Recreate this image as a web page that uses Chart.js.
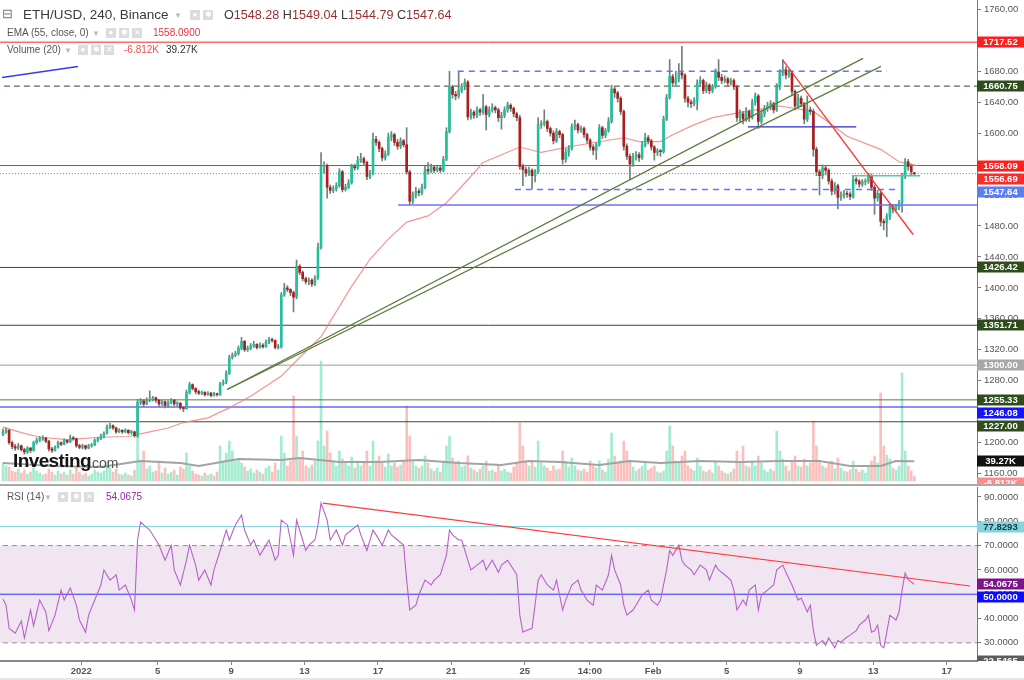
<!DOCTYPE html>
<html><head><meta charset="utf-8">
<script src="https://cdn.jsdelivr.net/npm/chart.js@4.4.1/dist/chart.umd.min.js"></script>
<style>
html,body{margin:0;padding:0;background:#fff;}
#wrap{position:relative;width:1024px;height:680px;overflow:hidden;font-family:"Liberation Sans",Arial,sans-serif;}
#c1{position:absolute;left:0;top:0;}
#c2{position:absolute;left:0;top:487px;}
.sep{position:absolute;left:0;top:484px;width:1024px;height:2px;background:#a9a9a9;}
.bot{position:absolute;left:0;top:678px;width:1024px;height:2px;background:#e6e6e6;}
.t{position:absolute;white-space:nowrap;line-height:1;}
.ic{position:absolute;width:10px;height:10px;background:#dcdcdc;color:#fff;font-size:8px;line-height:10px;text-align:center;}
.dd{position:absolute;font-size:8px;color:#bbb;}
.n{color:#9b2f2f;}
</style></head>
<body><div id="wrap">
<canvas id="c1" width="1024" height="484"></canvas>
<div class="sep"></div>
<canvas id="c2" width="1024" height="193"></canvas>
<div class="bot"></div>

<div class="t" style="left:2px;top:7px;font-size:13px;color:#777">⊟</div>
<div class="t" style="left:23px;top:8px;font-size:13.5px;color:#3a3a3a">ETH/USD, 240, Binance</div>
<div class="dd" style="left:174px;top:11px">▼</div>
<div class="ic" style="left:190px;top:10px">●</div>
<div class="ic" style="left:203px;top:10px">✱</div>
<div class="t" style="left:224px;top:8.5px;font-size:12.6px;color:#3a3a3a">O<span class="n">1548.28</span> H<span class="n">1549.04</span> L<span class="n">1544.79</span> C<span class="n">1547.64</span></div>

<div class="t" style="left:7px;top:28px;font-size:10px;color:#555">EMA (55, close, 0)</div>
<div class="dd" style="left:92px;top:29px">▼</div>
<div class="ic" style="left:106px;top:28px">●</div>
<div class="ic" style="left:119px;top:28px">✱</div>
<div class="ic" style="left:132px;top:28px">✕</div>
<div class="t" style="left:153px;top:28px;font-size:10px;color:#f0303a">1558.0900</div>

<div class="t" style="left:7px;top:45px;font-size:10px;color:#555">Volume (20)</div>
<div class="dd" style="left:64px;top:46px">▼</div>
<div class="ic" style="left:78px;top:45px">●</div>
<div class="ic" style="left:91px;top:45px">✱</div>
<div class="ic" style="left:104px;top:45px">✕</div>
<div class="t" style="left:124px;top:45px;font-size:10px;color:#f05050">-6.812K</div>
<div class="t" style="left:166px;top:45px;font-size:10px;color:#333">39.27K</div>

<div class="t" style="left:7px;top:492px;font-size:10px;color:#555">RSI (14)</div>
<div class="dd" style="left:44px;top:493px">▼</div>
<div class="ic" style="left:58px;top:492px">●</div>
<div class="ic" style="left:71px;top:492px">✱</div>
<div class="ic" style="left:84px;top:492px">✕</div>
<div class="t" style="left:106px;top:492px;font-size:10px;color:#8e2a9e">54.0675</div>

<div class="t" style="left:13px;top:451px;font-size:19px;font-weight:bold;letter-spacing:-0.6px;color:#151515">Investing</div>
<div class="t" style="left:88px;top:456px;font-size:14px;color:#555">.com</div>
</div>
<script>
// ---------- DATA ----------
const opens = [1211,1214,1216,1200,1195,1193,1196,1191,1188,1193,
1190,1200,1203,1205,1206,1202,1192,1190,1194,1200,
1198,1203,1201,1206,1205,1196,1194,1196,1193,1196,
1197,1203,1205,1208,1212,1220,1222,1219,1214,1216,
1214,1216,1213,1214,1209,1252,1254,1250,1255,1256,
1258,1255,1250,1253,1248,1252,1255,1250,1251,1245,
1244,1265,1275,1270,1266,1264,1265,1262,1264,1261,
1263,1262,1276,1278,1290,1310,1313,1315,1322,1331,
1320,1322,1325,1327,1323,1326,1324,1330,1333,1332,
1323,1324,1391,1400,1398,1394,1388,1428,1420,1412,
1408,1410,1405,1413,1452,1557,1558,1530,1526,1528,
1532,1550,1527,1530,1536,1557,1555,1565,1567,1562,
1544,1548,1592,1588,1580,1568,1573,1595,1598,1588,
1583,1590,1585,1550,1512,1520,1525,1523,1530,1553,
1551,1556,1552,1555,1552,1566,1602,1660,1650,1648,
1655,1660,1666,1621,1627,1623,1630,1627,1634,1624,
1630,1633,1630,1620,1623,1630,1636,1632,1625,1620,
1557,1553,1548,1552,1545,1550,1611,1612,1615,1606,
1600,1590,1602,1598,1566,1575,1580,1608,1611,1604,
1606,1598,1591,1582,1578,1585,1607,1597,1603,1615,
1657,1652,1645,1628,1583,1570,1560,1570,1572,1568,
1585,1594,1590,1582,1575,1577,1576,1618,1646,1673,
1665,1670,1678,1675,1645,1640,1638,1642,1665,1668,
1655,1662,1655,1660,1679,1672,1668,1670,1665,1668,
1660,1620,1625,1618,1628,1620,1640,1648,1615,1625,
1632,1635,1638,1630,1660,1678,1682,1675,1678,1654,
1635,1645,1638,1618,1630,1628,1579,1550,1545,1555,
1552,1538,1525,1532,1517,1520,1522,1521,1518,1540,
1538,1534,1537,1538,1545,1530,1516,1522,1486,1484,
1492,1505,1502,1505,1510,1544,1563,1557,1548.28];
const closes = [1214,1216,1200,1195,1193,1196,1191,1188,1193,1190,
1200,1203,1205,1206,1202,1192,1190,1194,1200,1198,
1203,1201,1206,1205,1196,1194,1196,1193,1196,1197,
1203,1205,1208,1212,1220,1222,1219,1214,1216,1214,
1216,1213,1214,1209,1252,1254,1250,1255,1256,1258,
1255,1250,1253,1248,1252,1255,1250,1251,1245,1244,
1265,1275,1270,1266,1264,1265,1262,1264,1261,1263,
1262,1276,1278,1290,1310,1313,1315,1322,1331,1320,
1322,1325,1327,1323,1326,1324,1330,1333,1332,1323,
1324,1391,1400,1398,1394,1388,1428,1420,1412,1408,
1410,1405,1413,1452,1557,1558,1530,1526,1528,1532,
1550,1527,1530,1536,1557,1555,1565,1567,1562,1544,
1548,1592,1588,1580,1568,1573,1595,1598,1588,1583,
1590,1585,1550,1512,1520,1525,1523,1530,1553,1551,
1556,1552,1555,1552,1566,1602,1660,1650,1648,1655,
1660,1666,1621,1627,1623,1630,1627,1634,1624,1630,
1633,1630,1620,1623,1630,1636,1632,1625,1620,1557,
1553,1548,1552,1545,1550,1611,1612,1615,1606,1600,
1590,1602,1598,1566,1575,1580,1608,1611,1604,1606,
1598,1591,1582,1578,1585,1607,1597,1603,1615,1657,
1652,1645,1628,1583,1570,1560,1570,1572,1568,1585,
1594,1590,1582,1575,1577,1576,1618,1646,1673,1665,
1670,1678,1675,1645,1640,1638,1642,1665,1668,1655,
1662,1655,1660,1679,1672,1668,1670,1665,1668,1660,
1620,1625,1618,1628,1620,1640,1648,1615,1625,1632,
1635,1638,1630,1660,1678,1682,1675,1678,1654,1635,
1645,1638,1618,1630,1628,1579,1550,1545,1555,1552,
1538,1525,1532,1517,1520,1522,1521,1518,1540,1538,
1534,1537,1538,1545,1530,1516,1522,1486,1484,1492,
1505,1502,1505,1510,1544,1563,1557,1550,1547.64];
const highs = [1218,1219,1217,1202,1198,1199,1197,1193,1195,1194,
1202,1206,1208,1209,1207,1203,1194,1196,1202,1201,
1205,1204,1210,1208,1206,1198,1198,1197,1198,1199,
1205,1207,1211,1214,1223,1225,1223,1220,1218,1217,
1218,1217,1216,1215,1256,1257,1256,1258,1267,1260,
1259,1256,1255,1254,1254,1257,1256,1253,1252,1247,
1268,1278,1276,1271,1268,1267,1266,1266,1265,1265,
1264,1278,1281,1293,1313,1316,1318,1325,1336,1332,
1325,1328,1331,1328,1329,1328,1333,1336,1335,1333,
1327,1394,1406,1403,1399,1396,1436,1430,1422,1414,
1413,1412,1416,1458,1575,1563,1560,1533,1532,1536,
1554,1552,1534,1540,1560,1560,1570,1574,1569,1564,
1552,1600,1596,1590,1582,1577,1600,1602,1600,1592,
1594,1592,1607,1552,1524,1530,1528,1534,1557,1562,
1560,1558,1557,1557,1570,1607,1680,1662,1654,1680,
1664,1670,1668,1631,1629,1634,1632,1650,1636,1634,
1638,1635,1632,1627,1634,1640,1638,1634,1627,1623,
1560,1556,1556,1554,1553,1620,1616,1630,1617,1608,
1603,1606,1604,1600,1580,1584,1612,1617,1613,1609,
1608,1600,1593,1585,1588,1611,1609,1606,1620,1662,
1660,1654,1647,1630,1586,1573,1574,1576,1575,1589,
1600,1597,1592,1584,1580,1579,1622,1650,1695,1676,
1680,1690,1712,1677,1648,1643,1646,1669,1673,1670,
1666,1664,1663,1683,1695,1676,1674,1672,1671,1670,
1662,1630,1628,1633,1630,1644,1652,1650,1630,1636,
1640,1642,1640,1664,1682,1695,1686,1682,1680,1656,
1650,1648,1640,1648,1634,1631,1582,1553,1559,1558,
1554,1541,1536,1534,1524,1526,1525,1524,1544,1543,
1540,1540,1541,1548,1547,1533,1526,1524,1489,1496,
1509,1508,1508,1513,1548,1567,1566,1560,1549.04];
const lows = [1209,1212,1198,1192,1190,1191,1189,1185,1186,1187,
1189,1198,1201,1203,1200,1189,1187,1189,1193,1196,
1197,1199,1200,1203,1194,1192,1192,1191,1192,1194,
1196,1201,1204,1206,1211,1218,1217,1212,1213,1212,
1213,1211,1211,1207,1207,1249,1247,1249,1253,1254,
1252,1247,1248,1245,1246,1250,1248,1247,1243,1240,
1243,1263,1268,1263,1262,1262,1260,1261,1259,1260,
1260,1261,1274,1276,1288,1308,1311,1313,1320,1318,
1318,1320,1323,1321,1322,1322,1323,1328,1330,1321,
1321,1322,1389,1395,1390,1369,1386,1417,1409,1405,
1404,1402,1403,1411,1450,1548,1516,1522,1523,1525,
1530,1524,1525,1528,1534,1552,1553,1562,1558,1540,
1541,1546,1584,1576,1564,1565,1571,1590,1584,1579,
1580,1582,1547,1507,1509,1516,1519,1520,1528,1547,
1549,1549,1550,1549,1550,1564,1600,1645,1643,1645,
1652,1656,1617,1618,1619,1620,1623,1624,1604,1621,
1627,1626,1615,1605,1620,1627,1628,1621,1616,1553,
1532,1544,1545,1528,1537,1548,1606,1609,1602,1596,
1586,1588,1594,1560,1562,1570,1578,1604,1600,1601,
1594,1587,1578,1572,1566,1583,1593,1594,1601,1613,
1646,1640,1624,1578,1566,1540,1557,1565,1563,1566,
1582,1586,1578,1565,1571,1570,1574,1616,1644,1660,
1662,1666,1670,1640,1634,1633,1635,1630,1660,1651,
1652,1651,1652,1658,1668,1664,1665,1661,1662,1656,
1615,1614,1612,1615,1615,1618,1636,1606,1612,1621,
1628,1630,1626,1628,1656,1674,1670,1672,1650,1630,
1632,1634,1612,1615,1624,1570,1545,1520,1541,1546,
1534,1520,1521,1502,1513,1516,1517,1514,1516,1534,
1530,1531,1533,1535,1526,1495,1512,1480,1475,1466,
1488,1497,1499,1501,1498,1541,1552,1546,1544.79];
const volumes = [36,30,28,20,18,24,16,22,14,18,
26,20,16,12,14,24,18,12,20,14,
18,12,22,14,28,18,12,16,10,14,
22,18,16,20,38,26,18,24,14,12,
16,12,10,22,100,40,60,24,30,18,
20,40,16,26,14,18,22,12,28,24,
56,30,20,14,12,10,16,12,14,10,
18,70,40,56,80,60,40,44,36,28,
20,24,16,22,18,14,26,30,18,36,
22,90,56,30,40,170,90,44,60,30,
26,32,40,80,240,70,100,56,40,30,
60,44,36,30,48,26,40,30,36,60,
30,80,40,50,36,28,54,30,36,28,
32,40,150,90,40,30,26,30,50,36,
24,20,26,18,40,70,90,46,36,40,
28,30,50,26,22,18,24,30,40,20,
22,18,30,20,24,18,16,28,36,116,
70,40,30,40,28,80,36,30,26,20,
30,22,24,60,40,28,46,30,22,20,
24,18,40,30,26,40,22,18,44,96,
50,36,40,80,60,40,28,20,24,30,
36,22,26,30,18,16,20,60,110,70,
40,36,50,60,30,24,20,46,30,20,
18,22,16,40,30,20,16,14,18,24,
60,36,70,30,28,40,30,50,36,22,
18,24,20,100,60,44,30,20,40,50,
30,28,44,30,36,120,70,40,30,26,
34,40,24,46,26,20,18,22,40,24,
18,22,16,30,40,50,36,176,70,52,
44,26,22,30,216,60,30,20,10];
// volume moving average (20), read at candle indices
const volMA = [[0,36],[16,30],[32,28],[45,40],[58,36],[64,30],[77,44],[91,42],[97,46],[110,38],[123,38],[136,42],[149,36],[163,32],[172,40],[182,38],[195,32],[205,40],[215,36],[228,40],[241,38],[254,40],[267,40],[277,30],[287,30],[292,40],[298,39.27]];
// EMA(55) read at candle indices
const ema55 = [[0,1220],[6,1213],[12,1207],[21,1204],[32,1207],[41,1208],[48,1214],[54,1219],[59,1226],[67,1232],[74,1245],[81,1260],[91,1286],[97,1310],[104,1337],[114,1402],[120,1437],[126,1463],[132,1485],[139,1493],[145,1510],[150,1531],[157,1562],[169,1582],[176,1575],[186,1583],[203,1594],[208,1589],[215,1589],[219,1598],[225,1609],[232,1620],[243,1628],[254,1635],[265,1628],[270,1614],[276,1596],[287,1579],[293,1563],[299,1558.09]];
// RSI(14) read at candle indices
const rsi14 = [[0,48],[1,45.5],[2,36],[4,34],[6,39],[7,32],[9,43.5],[10,37],[12,47.6],[14,42.7],[15,35],[17,41.4],[19,51.7],[20,47.6],[22,52.5],[24,45.5],[25,39.4],[27,34.4],[28,41.4],[30,47.6],[32,53.8],[33,60],[35,55.8],[37,58],[38,51.7],[40,53.8],[42,47.6],[43,43.5],[44,72.3],[45,79.7],[46,78.5],[48,76.4],[50,72.3],[51,70.2],[53,64],[55,70.2],[56,60],[58,53.8],[60,64],[61,70.2],[63,62],[64,55.8],[66,60],[68,53.8],[69,60],[71,68],[73,76.4],[74,72.3],[76,78.5],[78,82.6],[79,76.4],[81,70.2],[82,72.3],[84,66],[86,70.2],[87,72.3],[89,64],[90,66],[91,80.5],[93,78.5],[94,72.3],[95,66],[96,80.5],[98,72.3],[99,68],[100,70.2],[102,72.3],[103,78.5],[104,87.5],[106,80.5],[107,72.3],[109,76.4],[111,70.2],[112,74.4],[114,76.4],[116,78.5],[117,74.4],[119,68],[121,76.4],[122,74.4],[124,70.2],[126,76.4],[127,74.4],[129,72.3],[131,70.2],[132,55.8],[133,43.5],[135,45.5],[136,49.7],[138,55.8],[140,53.8],[141,55.8],[143,58],[145,66],[146,76.4],[147,74.4],[149,72.3],[150,72.3],[152,64],[153,60],[155,62],[157,64],[158,60],[160,64],[162,59],[163,62],[165,64],[166,62],[168,58],[169,41.4],[170,34.4],[171,35],[173,36],[175,55.8],[176,58],[178,53.8],[180,51.7],[181,55.8],[183,43.5],[184,47.6],[186,53.8],[188,55.8],[189,51.7],[191,47.6],[193,45.5],[194,53.8],[196,51.7],[198,58],[199,66],[200,60],[202,53.8],[203,45.5],[204,41.4],[206,43.5],[207,45.5],[209,49.7],[211,51.7],[212,47.6],[214,45.5],[215,47.6],[217,60],[218,68],[219,66],[221,70.2],[222,64],[223,62],[225,60],[226,58],[228,62],[230,60],[231,55.8],[233,62],[234,60],[236,58],[238,55.8],[239,51.7],[240,43.5],[242,47.6],[243,45.5],[244,51.7],[246,53.8],[247,43.5],[248,49.7],[250,51.7],[252,53.8],[253,60],[255,62],[256,59],[258,53.8],[260,47.6],[261,48.4],[263,42.7],[264,45.5],[265,35],[266,29],[268,31],[269,29],[270,32],[272,28],[273,31],[274,30.3],[276,32.4],[277,33.2],[279,35],[280,37.3],[282,39.4],[283,41.4],[284,34.4],[285,35],[286,37.3],[287,29],[288,28],[289,34.4],[290,41.4],[292,39.4],[293,42.7],[294,51.7],[295,58.7],[296,56],[298,54.0675]];
// x-axis ticks (candle index of each label) and their labels
const tickPos = [25.6,50.6,74.6,98.6,122.6,146.6,170.6,191.9,212.6,236.6,260.6,284.6,308.6];
const tickLabels = ['2022','5','9','13','17','21','25','14:00','Feb','5','9','13','17'];
const priceTicks = [1160,1200,1240,1280,1320,1360,1400,1440,1480,1520,1560,1600,1640,1680,1720,1760];
const rsiTicks = [30,40,50,60,70,80,90];
// horizontal levels
const lvlRed = [1717.52, 1558.09];
const lvlDashed = 1660.75;
const lvlLast = 1547.64;
const lvlDark = [1426.42, 1351.71, 1227.00];
const lvlGray = 1300.00;
const lvlOlive = 1255.33;
const lvlBlue = 1246.08;
const lvlEmaTag = 1556.69;
// drawings: [[candleIndex, price], [candleIndex, price]]
const chanA = [[73.3,1268.7],[281.2,1696.6]];
const chanB = [[73.3,1268.7],[287.1,1686.3]];
const downTrend = [[255,1694.4],[297.6,1469]];
const rangeTop = [[148.7,1680],[289.1,1680]];
const rangeBot = [[167.4,1527],[292.3,1527]];
const support = [[129.2,1507],[330,1507]];
const miniRes = [[243.6,1608],[279,1608]];
const tealLine = [[277.6,1545],[299.9,1545]];
const blueTick = [[-0.3,1672],[24.5,1686]];
const rsiTrend = [[104.6,87.5],[316.2,53.4]];
const rsiLevels = {upper:70, lower:30, mid:50, cyan:77.8293, last:54.0675, low:22.5465};

// ---------- CHART ----------
const FONT = '"Liberation Sans", Arial, sans-serif';
const X_MIN = -0.98, X_MAX = 318.5;
const GREEN = '#22c09c', RED = '#ad1d1d';
const up = i => closes[i] >= opens[i];
const seg = s => s.map(([x,y]) => ({x, y}));
const hl = (v, a = X_MIN - 2, b = X_MAX + 2) => [{x:a, y:v}, {x:b, y:v}];
const line = (data, color, extra = {}) => Object.assign({type:'line', data, borderColor:color, borderWidth:1, pointRadius:0, fill:false, tension:0, yAxisID:'y'}, extra);

const labelPlugin = {
  id: 'valueLabels',
  afterDraw(chart, args, opts) {
    const ctx = chart.ctx, ca = chart.chartArea;
    ctx.save();
    ctx.beginPath();
    ctx.rect(0, 0, chart.width, opts.clipBottom || chart.height);
    ctx.clip();
    let prev = -1e9;
    opts.items.forEach(it => {
      let y = chart.scales[it.axis || 'y'].getPixelForValue(it.v);
      if (it.push && y - prev < 13) y = prev + 13;
      prev = y;
      ctx.fillStyle = it.bg;
      ctx.fillRect(ca.right, Math.round(y) - 5.5, chart.width - ca.right, 11);
      ctx.fillStyle = it.fg || '#fff';
      ctx.font = 'bold 9.5px ' + FONT;
      ctx.textAlign = 'center';
      ctx.textBaseline = 'middle';
      ctx.fillText(it.t, ca.right + (chart.width - ca.right) / 2, Math.round(y) + 0.5);
    });
    ctx.restore();
  }
};

const yAfterFit = w => s => { s.width = w; s.paddingTop = 0; s.paddingBottom = 0; };

new Chart(document.getElementById('c1'), {
  type: 'bar',
  data: { datasets: [
    {type:'bar', data: volumes.map((v,i)=>({x:i,y:v})), yAxisID:'vol', barThickness:2, grouped:false,
      backgroundColor: c => up(c.dataIndex) ? 'rgba(90,220,170,0.55)' : 'rgba(245,140,135,0.55)', order:30},
    line(volMA.map(([x,y])=>({x,y})), '#a3a3a3', {yAxisID:'vol', borderWidth:2, order:29}),
    line(hl(lvlRed[0]), '#ff2020', {order:20}),
    line(hl(lvlRed[1]), '#ff2020', {order:20}),
    line(hl(lvlDashed), '#2e4a1c', {borderDash:[6,4], order:20}),
    line(hl(lvlLast), '#5a78ee', {borderDash:[1,2], order:20}),
    ...lvlDark.map(v => line(hl(v), '#3a4d2a', {order:20})),
    line(hl(lvlGray), '#bcbcbc', {borderWidth:1.5, order:20}),
    line(hl(lvlOlive), '#60764a', {order:20}),
    line(hl(lvlBlue), '#1a1aff', {order:20}),
    line(ema55.map(([x,y])=>({x,y})), 'rgba(240,130,130,0.85)', {borderWidth:1.2, order:18}),
    {type:'bar', data: closes.map((c,i)=>({x:i, y:[lows[i], highs[i]]})), barThickness:1, grouped:false,
      backgroundColor:'#6f8279', yAxisID:'y', order:12},
    {type:'bar', data: closes.map((c,i)=>({x:i, y:[opens[i], c]})), barThickness:2, grouped:false, minBarLength:1,
      backgroundColor: c => up(c.dataIndex) ? GREEN : RED, yAxisID:'y', order:11},
    line(seg(chanA), '#5d7a3c', {borderWidth:1.3, order:5}),
    line(seg(chanB), '#5d7a3c', {borderWidth:1.3, order:5}),
    line(seg(downTrend), '#ff3535', {borderWidth:1.3, order:5}),
    line(seg(rangeTop), '#6f6ff8', {borderWidth:1.5, borderDash:[6,5], order:5}),
    line(seg(rangeBot), '#6f6ff8', {borderWidth:1.5, borderDash:[6,5], order:5}),
    line(seg(support), '#7070ff', {borderWidth:1.5, order:5}),
    line(seg(miniRes), '#2a2ad8', {borderWidth:1.2, order:5}),
    line(seg(tealLine), '#62c2a2', {borderWidth:1.5, order:5}),
    line(seg(blueTick), '#3a3aee', {borderWidth:1.5, order:5})
  ]},
  options: {
    responsive:false, animation:false, events:[],
    layout:{padding:0},
    plugins:{legend:{display:false}, tooltip:{enabled:false},
      valueLabels:{items:[
        {v:lvlRed[0], t:lvlRed[0].toFixed(2), bg:'#ff1e1e'},
        {v:lvlDashed, t:lvlDashed.toFixed(2), bg:'#2f4d1c'},
        {v:lvlRed[1], t:lvlRed[1].toFixed(2), bg:'#ff1e1e'},
        {v:lvlEmaTag, t:lvlEmaTag.toFixed(2), bg:'#ff2b2b', push:true},
        {v:lvlLast, t:lvlLast.toFixed(2), bg:'#5b7ef0', push:true},
        {v:lvlDark[0], t:lvlDark[0].toFixed(2), bg:'#2f4d1c'},
        {v:lvlDark[1], t:lvlDark[1].toFixed(2), bg:'#2f4d1c'},
        {v:lvlGray, t:lvlGray.toFixed(2), bg:'#a8a8a8'},
        {v:lvlOlive, t:lvlOlive.toFixed(2), bg:'#2f4d1c'},
        {v:lvlBlue, t:lvlBlue.toFixed(2), bg:'#1414ff'},
        {v:lvlDark[2], t:lvlDark[2].toFixed(2), bg:'#2f4d1c'},
        {v:39.27, axis:'vol', t:'39.27K', bg:'#111'},
        {v:-4, axis:'vol', t:'-6.812K', bg:'#ff8a8a'}
      ]}},
    scales:{
      x:{type:'linear', min:X_MIN, max:X_MAX, offset:false, display:false},
      y:{type:'linear', position:'right', min:1146.6, max:1772.0,
        afterFit: yAfterFit(47),
        afterBuildTicks: s => { s.ticks = priceTicks.map(v=>({value:v})); },
        ticks:{callback: v => Number(v).toFixed(2), font:{size:9.5, family:FONT}, color:'#555', padding:3},
        grid:{drawOnChartArea:false, drawTicks:true, tickLength:4, color:'#777'},
        border:{display:true, color:'#777'}},
      vol:{type:'linear', display:false, min:-6, max:962}
    }
  },
  plugins:[labelPlugin]
});

new Chart(document.getElementById('c2'), {
  type: 'line',
  data: { datasets: [
    line(hl(rsiLevels.upper), 'rgba(0,0,0,0)', {borderWidth:0, fill:{value:rsiLevels.lower}, backgroundColor:'#f2e5f2', order:30}),
    line(hl(rsiLevels.upper), '#8f8f8f', {borderDash:[5,4], order:20}),
    line(hl(rsiLevels.lower), '#8f8f8f', {borderDash:[5,4], order:20}),
    line(hl(rsiLevels.cyan), '#7ed4e2', {order:20}),
    line(hl(rsiLevels.mid), '#2f2fff', {order:20}),
    line(rsi14.map(([x,y])=>({x,y})), '#b463c6', {borderWidth:1.1, order:10}),
    line(seg(rsiTrend), '#ff3a3a', {borderWidth:1.2, order:5})
  ]},
  options: {
    responsive:false, animation:false, events:[],
    layout:{padding:0},
    plugins:{legend:{display:false}, tooltip:{enabled:false},
      valueLabels:{clipBottom:174, items:[
        {v:rsiLevels.cyan, t:rsiLevels.cyan.toFixed(4), bg:'#86d3df', fg:'#16383e'},
        {v:rsiLevels.last, t:rsiLevels.last.toFixed(4), bg:'#7e1489'},
        {v:rsiLevels.mid, t:rsiLevels.mid.toFixed(4), bg:'#0b0bff', push:true},
        {v:rsiLevels.low, t:rsiLevels.low.toFixed(4), bg:'#5c5c5c'}
      ]}},
    scales:{
      x:{type:'linear', min:X_MIN, max:X_MAX, offset:false, position:'bottom',
        afterFit: s => { s.height = 19; s.paddingLeft = 0; s.paddingRight = 0; },
        afterBuildTicks: s => { s.ticks = tickPos.map(v=>({value:v})); },
        ticks:{callback:(v,i)=>tickLabels[i], autoSkip:false, maxRotation:0, font:{size:9.5, weight:'bold', family:FONT}, color:'#555', padding:1},
        grid:{drawOnChartArea:false, drawTicks:true, tickLength:4, color:'#888'},
        border:{display:true, color:'#888', width:2}},
      y:{type:'linear', position:'right', min:22.5465, max:94.1,
        afterFit: yAfterFit(47),
        afterBuildTicks: s => { s.ticks = rsiTicks.map(v=>({value:v})); },
        ticks:{callback: v => Number(v).toFixed(4), font:{size:9.5, family:FONT}, color:'#555', padding:3},
        grid:{drawOnChartArea:false, drawTicks:true, tickLength:4, color:'#777'},
        border:{display:true, color:'#777'}}
    }
  },
  plugins:[labelPlugin]
});
</script>
</body></html>
